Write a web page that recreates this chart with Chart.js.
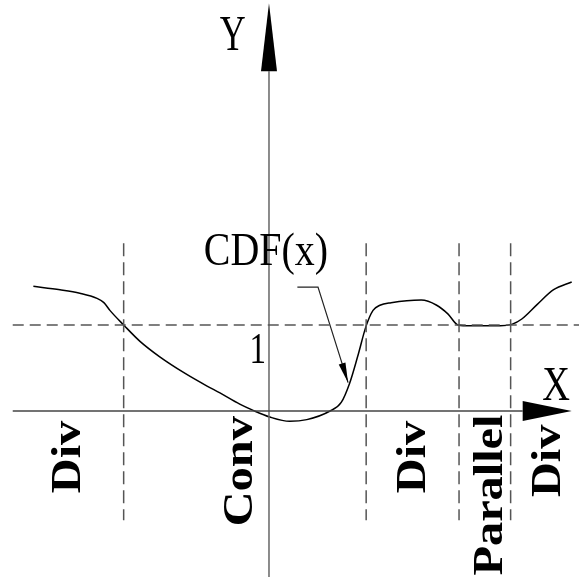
<!DOCTYPE html>
<html>
<head>
<meta charset="utf-8">
<script src="https://cdn.jsdelivr.net/npm/chart.js@4.4.1/dist/chart.umd.min.js"></script>
<style>
  html, body { margin: 0; padding: 0; background: #fff; }
  #wrap { width: 579px; height: 577px; }
</style>
</head>
<body>
<div id="wrap"><canvas id="cdfChart"></canvas></div>
<script>
// CDF(x) curve (axis units, y = 1 is the dashed level)
const curveX = [-2.74, -2.43, -2.2, -2.0, -1.92, -1.85, -1.69, -1.5, -1.27, -0.98, -0.72, -0.57,
  -0.34, -0.19, 0.01, 0.24, 0.44, 0.71, 0.84, 0.94, 1.03, 1.13, 1.21, 1.29, 1.42, 1.77, 1.95,
  2.08, 2.2, 2.34, 2.69, 2.83, 2.94, 3.12, 3.31, 3.52];
const curveY = [1.45, 1.41, 1.37, 1.31, 1.26, 1.17, 1.0, 0.81, 0.63, 0.44, 0.29, 0.21,
  0.08, 0.01, -0.07, -0.12, -0.1, 0.0, 0.1, 0.33, 0.63, 0.99, 1.17, 1.23, 1.26, 1.29, 1.23,
  1.13, 1.0, 0.99, 0.99, 1.01, 1.07, 1.24, 1.41, 1.5];

// region boundaries (vertical dashed lines) and the region names between them
const boundaries = [-1.69, 1.13, 2.21, 2.81];
const regionNames = ["Div", "Conv", "Div", "Parallel", "Div"];
const levelOne = 1;
const axisNames = ["X", "Y"];
const curveName = "CDF(x)";

// where things sit, in axis units
const view = { xMin: -3.128, xMax: 3.605, yMin: -1.93, yMax: 4.779 };
const dashTop = 1.95, dashBottom = -1.27, lineLeft = -2.98;
const xArrow = { base: 2.95, tip: 3.52 };
const yArrow = { base: 3.95, tip: 4.74 };
const leader = [[0.33, 1.44], [0.57, 1.44], [0.92, 0.33]];
const regionSpots = [[-2.2, -0.535], [-0.2, -0.7], [1.81, -0.535], [2.71, -0.977], [3.38, -0.58]];

const grey = "#555";
const seg = (pts, color, width, dash) => ({
  data: pts.map(p => ({ x: p[0], y: p[1] })),
  borderColor: color,
  borderWidth: width,
  borderDash: dash || [],
  pointRadius: 0,
  tension: 0,
  fill: false
});

const datasets = [];
// dashed level y = 1
datasets.push(seg([[lineLeft, levelOne], [view.xMax, levelOne]], grey, 1.5, [11, 6]));
// region boundaries
boundaries.forEach(b => datasets.push(seg([[b, dashTop], [b, dashBottom]], grey, 1.5, [13, 6])));
// axes
datasets.push(seg([[lineLeft, 0], [xArrow.base, 0]], "#444", 1.5));
datasets.push(seg([[0, view.yMin], [0, yArrow.base]], "#666", 1.5));
// leader from the label to the curve
datasets.push(seg(leader, "#222", 1.2));
// the curve itself
datasets.push({
  data: curveX.map((x, i) => ({ x: x, y: curveY[i] })),
  borderColor: "#000",
  borderWidth: 1.5,
  pointRadius: 0,
  cubicInterpolationMode: "monotone",
  fill: false
});

function drawText(ctx, text, px, py, font, sx, rotate) {
  ctx.save();
  ctx.translate(px, py);
  if (rotate) ctx.rotate(-Math.PI / 2);
  ctx.scale(sx, 1);
  ctx.font = font;
  ctx.fillStyle = "#000";
  ctx.textAlign = "center";
  ctx.textBaseline = "alphabetic";
  ctx.fillText(text, 0, 0);
  ctx.restore();
}

function triangle(ctx, a, b, c) {
  ctx.beginPath();
  ctx.moveTo(a[0], a[1]);
  ctx.lineTo(b[0], b[1]);
  ctx.lineTo(c[0], c[1]);
  ctx.closePath();
  ctx.fill();
}

const sketchPlugin = {
  id: "sketch",
  afterDatasetsDraw(chart) {
    const ctx = chart.ctx;
    const sx = chart.scales.x, sy = chart.scales.y;
    const px = v => sx.getPixelForValue(v);
    const py = v => sy.getPixelForValue(v);
    ctx.save();
    ctx.fillStyle = "#000";

    // axis arrows
    triangle(ctx, [px(xArrow.tip), py(0)], [px(xArrow.base), py(0) - 10], [px(xArrow.base), py(0) + 10]);
    triangle(ctx, [px(0), py(yArrow.tip)], [px(0) - 8, py(yArrow.base)], [px(0) + 8, py(yArrow.base)]);

    // leader arrow head
    const p1 = leader[leader.length - 2], p2 = leader[leader.length - 1];
    const x1 = px(p1[0]), y1 = py(p1[1]), x2 = px(p2[0]), y2 = py(p2[1]);
    const ang = Math.atan2(y2 - y1, x2 - x1);
    const len = 20, half = 3.5;
    const bx = x2 - len * Math.cos(ang), by = y2 - len * Math.sin(ang);
    triangle(ctx, [x2, y2],
      [bx + half * Math.sin(ang), by - half * Math.cos(ang)],
      [bx - half * Math.sin(ang), by + half * Math.cos(ang)]);

    // axis names, level tick and curve name
    const serif = "'Liberation Serif', 'DejaVu Serif', serif";
    drawText(ctx, axisNames[1], px(-0.42), py(4.2), "50px " + serif, 0.72);
    drawText(ctx, axisNames[0], px(3.34), py(0.13), "48px " + serif, 0.8);
    drawText(ctx, String(levelOne), px(-0.13), py(0.56), "44px " + serif, 0.75);
    drawText(ctx, curveName, px(-0.035), py(1.7), "47px " + serif, 0.85);

    // region names, rotated
    regionNames.forEach((name, i) => {
      const s = regionSpots[i];
      drawText(ctx, name, px(s[0]), py(s[1]), "bold 42px " + serif, 1.15, true);
    });
    ctx.restore();
  }
};

new Chart(document.getElementById("cdfChart"), {
  type: "line",
  data: { datasets: datasets },
  options: {
    responsive: true,
    maintainAspectRatio: false,
    animation: false,
    layout: { padding: 0 },
    plugins: { legend: { display: false }, tooltip: { enabled: false } },
    events: [],
    scales: {
      x: { type: "linear", min: view.xMin, max: view.xMax, display: false },
      y: { type: "linear", min: view.yMin, max: view.yMax, display: false }
    }
  },
  plugins: [sketchPlugin]
});
</script>
</body>
</html>
